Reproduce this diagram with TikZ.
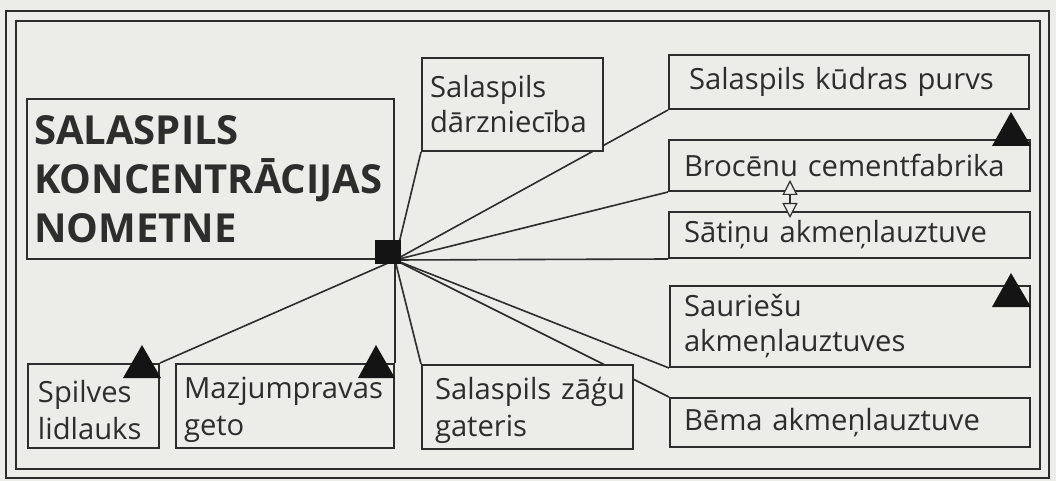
\documentclass[tikz,border=0pt]{standalone}
\usepackage{fontspec}
\setmainfont{Open Sans}
\usetikzlibrary{arrows.meta,calc}
\definecolor{paper}{RGB}{236,236,232}
\definecolor{ink}{RGB}{45,45,45}
\pgfdeclarelayer{paperlayer}
\pgfdeclarelayer{under}
\pgfsetlayers{paperlayer,under,main}
\newcommand{\lowstrut}{\rule{0pt}{15pt}}
\tikzset{
  place/.style={draw=ink, line width=1pt, fill=paper, anchor=north west,
    inner ysep=0pt, align=left, text=ink, font=\fontsize{14.6}{17.5}\selectfont},
  link/.style={draw=ink, line width=0.8pt},
  tri/.style={fill=black!92},
  frame/.style={draw=ink, line width=1pt},
  dbltip/.tip={Triangle[length=7.5pt, width=7.5pt, fill=paper]},
}
\begin{document}
\begin{tikzpicture}[x=0.5pt, y=-0.5pt]
  \begin{pgfonlayer}{paperlayer}
    \fill[paper] (0,0) rectangle (1056,481);
  \end{pgfonlayer}
  \useasboundingbox (0,0) rectangle (1056,481);
  % frame
  \draw[frame] (6,11) rectangle (1049,478);
  \draw[frame] (16,21) rectangle (1040,469);

  % camp and places
  \node[place, text width=176.5pt, inner xsep=3.5pt, minimum height=80pt,
    font=\fontsize{20}{24.5}\selectfont\bfseries] (title) at (26,98)
    {SALASPILS\\KONCENTRĀCIJAS\\NOMETNE};
  \node[place, text width=82.5pt, inner xsep=4pt, minimum height=46.5pt] (gard) at (421,57)
    {Salaspils\\dārzniecība};
  \node[place, text width=160pt, inner xsep=10pt, minimum height=27pt] (peat) at (668,54)
    {Salaspils kūdras purvs};
  \node[place, text width=165.5pt, inner xsep=7.5pt, minimum height=25.5pt] (cement) at (668,139)
    {Brocēnu cementfabrika};
  \node[place, text width=165.5pt, inner xsep=7.5pt, minimum height=23pt] (satini) at (668,211)
    {Sātiņu akmeņlauztuve};
  \node[place, text width=166pt, inner xsep=7pt, minimum height=40.5pt] (saur) at (669,285)
    {Sauriešu\\akmeņlauztuves};
  \node[place, text width=166pt, inner xsep=7pt, minimum height=24.5pt] (bema) at (669,397)
    {Bēma akmeņlauztuve};
  \node[place, text width=92.5pt, inner xsep=6.5pt, minimum height=42pt] (saw) at (421,364)
    {\lowstrut\mbox{Salaspils zāģu}\\[1pt]gateris};
  \node[place, text width=101pt, inner xsep=4pt, minimum height=42pt] (ghetto) at (175,363)
    {\lowstrut Mazjumpravas\\[1pt]geto};
  \node[place, text width=55.5pt, inner xsep=5pt, minimum height=42pt] (airfield) at (27,363)
    {\lowstrut Spilves\\[1pt]lidlauks};

  % hub
  \coordinate (hubpt) at (title.south east);
  \node[fill=black!92, minimum width=13pt, minimum height=12pt, inner sep=0pt] (hub)
    at ($(hubpt)+(-7,-8)$) {};

  \begin{pgfonlayer}{under}
    \draw[link] (hubpt) -- (gard.south west);
    \draw[link] (hubpt) -- (peat.south west);
    \draw[link] (hubpt) -- (cement.south west);
    \draw[link] (hubpt) -- (satini.south west);
    \draw[link] (hubpt) -- (saur.south west);
    \draw[link] (hubpt) -- (bema.north west);
    \draw[link] (hubpt) -- (saw.north west);
    \draw[link] (hubpt) -- (ghetto.north east);
    \draw[link] (hubpt) -- (airfield.north east);
  \end{pgfonlayer}

  % triangles
  \fill[tri] ($(cement.north east)+(0,7)$) -- ++(-39,0) -- ++(19,-34) -- cycle;
  \fill[tri] ($(saur.north east)+(0,22)$) -- ++(-39,0) -- ++(19,-34) -- cycle;
  \fill[tri] ($(ghetto.north east)+(0,15)$) -- ++(-37,0) -- ++(18,-33) -- cycle;
  \fill[tri] ($(airfield.north east)+(1,15)$) -- ++(-38,0) -- ++(19,-33) -- cycle;

  % link between cement works and quarry
  \draw[draw=ink, line width=0.6pt, dbltip-dbltip]
    ($(cement.south west)+(122,-12)$) -- ($(satini.north west)+(122,7)$);
\end{tikzpicture}
\end{document}
